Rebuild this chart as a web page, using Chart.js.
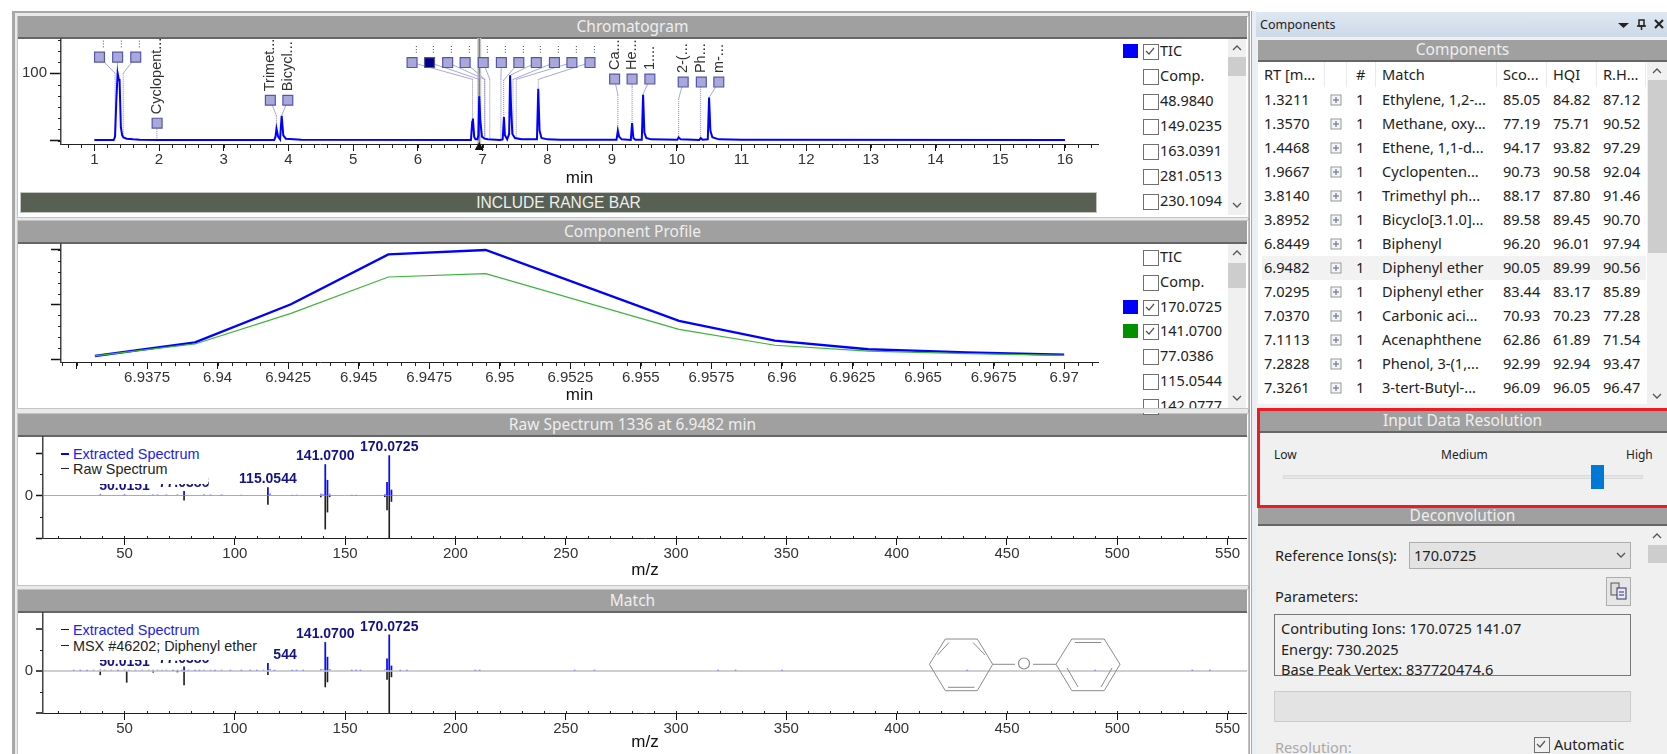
<!DOCTYPE html>
<html>
<head>
<meta charset="utf-8">
<title>Components</title>
<script src="https://cdn.jsdelivr.net/npm/chart.js@4"></script>
<style>
  html, body { margin: 0; padding: 0; background: #fff; overflow: hidden; }
  body { width: 1667px; height: 754px; position: relative; font-family: "Noto Sans", sans-serif; color: #222; }
  .abs { position: absolute; }
  .panel { position: absolute; left: 17px; width: 1230px; background: #fff; border: 1px solid #c4c4c4; box-sizing: content-box; }
  .bar { position: absolute; background: #a0a0a0; color: #eee; text-align: center; font-size: 15.5px; border-bottom: 2px solid #666; box-sizing: border-box; white-space: nowrap; overflow: hidden; }
  canvas { position: absolute; }
  .row { position: absolute; font-size: 14.5px; line-height: 20px; white-space: nowrap; }
  .chk { position: absolute; width: 14px; height: 14px; border: 1px solid #707070; background: #fff; box-sizing: content-box; }
  .spec-legend { position: absolute; background: #fff; font-family: "Liberation Sans", Arial, sans-serif; font-size: 14.4px; }
  .spec-legend div { position: absolute; white-space: nowrap; line-height: 16px; }
  .cell { position: absolute; font-size: 14.6px; line-height: 20px; white-space: nowrap; }
</style>
</head>
<body>
<div id="ui"></div>
<canvas id="chromChart" width="1082" height="154" style="left:18px;top:38px"></canvas>
<canvas id="profileChart" width="1082" height="166" style="left:18px;top:243px"></canvas>
<canvas id="rawChart" width="1229" height="148" style="left:18px;top:436px"></canvas>
<canvas id="matchChart" width="1229" height="142" style="left:18px;top:612px"></canvas>
<div id="overlay"></div>

<script>
// Chromatogram (TIC)
const ticTimes = [1, 1.30, 1.32, 1.34, 1.36, 1.38, 1.39, 1.41, 1.43, 1.45, 1.50, 1.6, 1.7, 2, 3.78, 3.80, 3.815, 3.84, 3.87, 3.895, 3.92, 3.96, 4.2, 6.82, 6.84, 6.85, 6.87, 6.89, 6.92, 6.935, 6.948, 6.965, 6.99, 7.03, 7.08, 7.27, 7.31, 7.33, 7.345, 7.38, 7.41, 7.425, 7.44, 7.46, 7.50, 7.6, 7.84, 7.86, 7.88, 7.91, 8.0, 8.2, 9.07, 9.09, 9.11, 9.15, 9.29, 9.31, 9.33, 9.36, 9.46, 9.48, 9.50, 9.53, 9.6, 10.01, 10.03, 10.06, 10.35, 10.37, 10.40, 10.48, 10.50, 10.52, 10.55, 10.65, 11, 16];
const ticValues = [1, 1, 6, 60, 100, 90, 90, 20, 8, 5, 3, 2, 1.5, 1.2, 1, 6, 18, 6, 2, 37, 8, 3, 1.5, 1, 28, 33, 6, 2, 2, 8, 66, 30, 6, 3, 2, 1, 2, 35, 8, 2, 10, 97, 50, 10, 4, 2, 2, 77, 15, 4, 2, 1.5, 1.5, 15, 6, 2, 1, 26, 4, 1.5, 1.5, 68, 12, 4, 2, 1.5, 5, 2, 1, 4, 1.5, 2, 64, 15, 5, 2, 1.5, 1];
const chromTicks = [1, 2, 3, 4, 5, 6, 7, 8, 9, 10, 11, 12, 13, 14, 15, 16];
const cursorRt = 6.9482;

// Peak annotations: flag position, peak it belongs to, where the leader bends
const flagRt = [1.08, 1.36, 1.64, 1.97, 3.72, 3.99, 5.91, 6.18, 6.46, 6.73, 7.01, 7.29, 7.56, 7.83, 8.11, 8.38, 8.66, 9.04, 9.31, 9.585, 10.10, 10.38, 10.65];
const flagLevel = [124, 124, 124, 26, 60, 60, 116, 116, 116, 116, 116, 116, 116, 116, 116, 116, 116, 91.5, 91.5, 91.5, 87, 87, 87];
const flagPeakRt = [1.3211, 1.357, 1.4468, 1.9667, 3.814, 3.8952, 6.8449, 6.9482, 7.0295, 7.037, 7.1113, 7.2828, 7.3261, 7.425, 7.47, 7.52, 7.86, 9.09, 9.31, 9.48, 10.03, 10.37, 10.50];
const flagPeakTop = [6, 100, 5, 1.2, 18, 37, 33, 66, 3, 3, 2, 2, 35, 97, 8, 3, 77, 15, 26, 68, 5, 4, 64];
const flagBend = [100, 100, 100, 20, 37, 37, 91, 91, 91, 91, 91, 91, 90, 97, 91, 91, 91, 68, 80, 69, 62, 80, 64];
const flagText = ['...', '...', '...', 'Cyclopent...', 'Trimet...', 'Bicycl...', '...', '...', '...', '...', '...', '...', '...', '...', '...', '...', '...', 'Ca...', 'He...', '1....', '2-(...', 'Ph...', 'm-...'];
const selectedFlag = 7;

// Component profile
const profileTimes = [6.93565, 6.9392, 6.9426, 6.94605, 6.9495, 6.95635, 6.95975, 6.96305, 6.96655, 6.97];
const profile170 = [2.8, 15.3, 50.2, 96, 100, 34.9, 16.8, 8.9, 6.1, 3.9];
const profile141 = [2.8, 13.8, 41.9, 75.2, 78.3, 27.2, 12.6, 7.3, 4.9, 3.4];
const profileTicks = [6.935, 6.9375, 6.94, 6.9425, 6.945, 6.9475, 6.95, 6.9525, 6.955, 6.9575, 6.96, 6.9625, 6.965, 6.9675, 6.97];
const profileTickLabels = ['', '6.9375', '6.94', '6.9425', '6.945', '6.9475', '6.95', '6.9525', '6.955', '6.9575', '6.96', '6.9625', '6.965', '6.9675', '6.97'];

// Spectra
const spectrumTicks = [50, 100, 150, 200, 250, 300, 350, 400, 450, 500, 550];
const rawExtractedMz = [39, 50, 63, 65, 69, 74, 77, 86, 89, 94, 103, 115, 116, 126, 128, 139, 140, 141, 142, 143, 153, 155, 168, 169, 170, 171];
const rawExtractedInt = [3, 3, 2, 2, 2, 2, 10, 2, 2, 2, 1, 19, 4, 1, 1, 4, 3, 73, 36, 4, 1, 1, 3, 31, 94, 13];
const rawSpectrumMz = [77, 115, 139, 141, 142, 143, 168, 169, 170, 171];
const rawSpectrumInt = [-11, -21, -3, -79, -39, -3, -3, -34, -100, -14];
const matchExtractedMz = [27, 30, 33, 36, 39, 41, 44, 47, 50, 52, 55, 58, 61, 63, 65, 67, 69, 72, 74, 76, 77, 79, 82, 84, 86, 89, 91, 94, 98, 103, 107, 110, 113, 115, 116, 118, 126, 128, 131, 139, 140, 141, 142, 143, 153, 155, 157, 168, 169, 170, 171, 175, 178, 209, 211, 254, 263, 319, 327, 348, 432, 490, 534, 542];
const matchExtractedInt = [1, 1, 1, 2, 3, 2, 2, 1, 3, 2, 2, 2, 2, 2, 2, 2, 2, 1, 2, 1, 10, 2, 1, 1, 2, 2, 1, 2, 1, 1, 1, 1, 2, 18, 4, 1, 1, 1, 1, 4, 3, 68, 33, 4, 1, 1, 1, 3, 29, 86, 12, 1, 1, 1, 1, 1, 1, 1, 1, 1, 1, 1, 1, 1];
const matchLibraryMz = [39, 51, 63, 74, 77, 115, 141, 142, 169, 170, 171];
const matchLibraryInt = [-9, -27, -3, -2, -33, -9, -38, -26, -20, -100, -14];
const peakLabelMz = [50, 77, 115, 141, 170];
const peakLabelText = ['50.0151', '77.0386', '115.0544', '141.0700', '170.0725'];

// Side lists and table
const chromLegend = ['TIC', 'Comp.', '48.9840', '149.0235', '163.0391', '281.0513', '230.1094'];
const profileLegend = ['TIC', 'Comp.', '170.0725', '141.0700', '77.0386', '115.0544', '142.0777'];
const compRt = ['1.3211', '1.3570', '1.4468', '1.9667', '3.8140', '3.8952', '6.8449', '6.9482', '7.0295', '7.0370', '7.1113', '7.2828', '7.3261'];
const compMatch = ['Ethylene, 1,2-...', 'Methane, oxy...', 'Ethene, 1,1-d...', 'Cyclopenten...', 'Trimethyl ph...', 'Bicyclo[3.1.0]...', 'Biphenyl', 'Diphenyl ether', 'Diphenyl ether', 'Carbonic aci...', 'Acenaphthene', 'Phenol, 3-(1,...', '3-tert-Butyl-...'];
const compScore = ['85.05', '77.19', '94.17', '90.73', '88.17', '89.58', '96.20', '90.05', '83.44', '70.93', '62.86', '92.99', '96.09'];
const compHqi = ['84.82', '75.71', '93.82', '90.58', '87.80', '89.45', '96.01', '89.99', '83.17', '70.23', '61.89', '92.94', '96.05'];
const compRh = ['87.12', '90.52', '97.29', '92.04', '91.46', '90.70', '97.94', '90.56', '85.89', '77.28', '71.54', '93.47', '96.47'];

const chartFont = "'Liberation Sans', Arial, sans-serif";

// ---- window chrome, plain html ----
let h = '';
function box(x, y, w, hh, css, inner) {
  h += `<div class="abs" style="left:${x}px;top:${y}px;width:${w}px;height:${hh}px;${css || ''}">${inner || ''}</div>`;
}
function bar(x, y, w, hh, text) {
  h += `<div class="bar" style="left:${x}px;top:${y}px;width:${w}px;height:${hh}px;line-height:${hh - 3}px">${text}</div>`;
}
function chevron(x, y, up) {
  const p = up ? '1,6 5,2 9,6' : '1,2 5,6 9,2';
  h += `<svg class="abs" style="left:${x}px;top:${y}px" width="10" height="8"><polyline points="${p}" fill="none" stroke="#555" stroke-width="1.3"/></svg>`;
}
function tick(x, y) {
  h += `<svg class="abs" style="left:${x}px;top:${y}px" width="14" height="14"><polyline points="3,7 6,10 11,4" fill="none" stroke="#555" stroke-width="1.2"/></svg>`;
}

box(12, 11, 1238, 743, 'background:#e9e9e9;border:1px solid #a8a8a8;border-width:2px 2px 0 3px;box-sizing:border-box');
h += '<div class="panel" style="top:16px;height:200px"></div>';
h += '<div class="panel" style="top:220px;height:187px"></div>';
h += '<div class="panel" style="top:413px;height:171px"></div>';
h += '<div class="panel" style="top:589px;height:165px"></div>';

bar(18, 16, 1229, 23, 'Chromatogram');
bar(18, 221, 1229, 23, 'Component Profile');
bar(18, 414, 1229, 23, 'Raw Spectrum 1336 at 6.9482 min');
bar(18, 590, 1229, 23, 'Match');

box(20, 192, 1077, 21, 'background:#586054;border:1px solid #c4c4c4;box-sizing:border-box;color:#eee;text-align:center;font:15.6px/19px ' + chartFont, 'INCLUDE RANGE BAR');

function legendList(names, top0, step, colours) {
  names.forEach((n, i) => {
    const cy = top0 + i * step;
    if (colours[i]) {
      box(1123, cy - 7, 15, 14, 'background:' + colours[i]);
      h += `<div class="chk" style="left:1143px;top:${cy - 7}px"></div>`;
      tick(1143, cy - 7);
    } else {
      h += `<div class="chk" style="left:1143px;top:${cy - 7}px"></div>`;
    }
    h += `<div class="row" style="left:1160px;top:${cy - 11}px">${n}</div>`;
  });
}
legendList(chromLegend, 51, 25, { 0: '#0000ff' });
legendList(profileLegend, 257, 24.8, { 2: '#0000ff', 3: '#009000' });
// the list is cut off by the panel edge
box(1100, 408, 146, 1, 'background:#c4c4c4');
box(1100, 409, 148, 4, 'background:#e9e9e9');

box(1228, 39, 18, 176, 'background:#f0f0f0');
box(1228, 57, 18, 19, 'background:#cdcdcd');
chevron(1232, 44, true); chevron(1232, 201, false);
box(1228, 244, 18, 164, 'background:#f0f0f0');
box(1228, 263, 18, 25, 'background:#cdcdcd');
chevron(1232, 249, true); chevron(1232, 394, false);

// right hand dock
box(1251, 11, 6, 743, 'background:#e9eef5;border-left:1px solid #a8a8a8;box-sizing:border-box');
box(1256, 12, 411, 25, 'background:linear-gradient(#dfe8f2,#cbd8e7);font-size:12.5px;line-height:25px;padding-left:4px;box-sizing:border-box', 'Components');
h += '<svg class="abs" style="left:1615px;top:17px" width="50" height="16"><polygon points="3,6 14,6 8.5,11" fill="#222"/><rect x="24" y="3" width="5" height="6" fill="none" stroke="#222" stroke-width="1.5"/><line x1="26.5" y1="9" x2="26.5" y2="13" stroke="#222" stroke-width="1.5"/><line x1="22" y1="9" x2="31" y2="9" stroke="#222" stroke-width="1.5"/><path d="M40 3 L48 11 M48 3 L40 11" stroke="#222" stroke-width="2"/></svg>';
box(1256, 37, 411, 717, 'background:#f0f0f0');
bar(1258, 40, 409, 22, 'Components');
box(1258, 62, 396, 342, 'background:#fff;overflow:hidden');
box(1262, 256, 384, 24, 'background:#f2f2f2');

const colX = [1264, 1356, 1382, 1503, 1553, 1603];
['RT [m...', '#', 'Match', 'Sco...', 'HQI', 'R.H...'].forEach((t, i) => {
  h += `<div class="cell" style="left:${colX[i]}px;top:64px">${t}</div>`;
});
[1324, 1346, 1375, 1496, 1546, 1596, 1645].forEach(x => box(x, 62, 1, 25, 'background:#eaeaea'));
compRt.forEach((rt, i) => {
  const y = 89 + i * 24;
  h += `<div class="cell" style="left:${colX[0]}px;top:${y}px">${rt}</div>`;
  h += `<svg class="abs" style="left:1330px;top:${y + 5}px" width="12" height="12"><rect x="1" y="1" width="10" height="10" fill="#f4f4f4" stroke="#999"/><path d="M3 6 H9 M6 3 V9" stroke="#54668c"/></svg>`;
  h += `<div class="cell" style="left:${colX[1]}px;top:${y}px">1</div>`;
  h += `<div class="cell" style="left:${colX[2]}px;top:${y}px">${compMatch[i]}</div>`;
  h += `<div class="cell" style="left:${colX[3]}px;top:${y}px">${compScore[i]}</div>`;
  h += `<div class="cell" style="left:${colX[4]}px;top:${y}px">${compHqi[i]}</div>`;
  h += `<div class="cell" style="left:${colX[5]}px;top:${y}px">${compRh[i]}</div>`;
});
box(1647, 62, 20, 342, 'background:#f0f0f0');
box(1648, 80, 19, 173, 'background:#cdcdcd');
chevron(1652, 67, true); chevron(1652, 392, false);

// Input Data Resolution
box(1256, 404, 411, 6, 'background:#f0f0f0');
bar(1258, 410, 409, 23, 'Input Data Resolution');
h += '<div class="abs" style="left:1274px;top:447px;font-size:12px;line-height:16px">Low</div>';
h += '<div class="abs" style="left:1441px;top:447px;width:44px;font-size:12px;line-height:16px;text-align:center">Medium</div>';
h += '<div class="abs" style="left:1626px;top:447px;font-size:12px;line-height:16px">High</div>';
box(1283, 475, 358, 2, 'background:#e4e7e4;border:1px solid #d8dcd8;box-sizing:content-box');
box(1591, 465, 13, 24, 'background:#0078d7');
bar(1258, 508, 409, 18, 'Deconvolution');
box(1257, 408, 410, 100, 'border:3px solid #ed1c24;border-right:none;box-sizing:border-box');

// Deconvolution
h += '<div class="cell" style="left:1275px;top:545px">Reference Ions(s):</div>';
box(1409, 542, 222, 27, 'background:#e3e3e3;border:1px solid #adadad;box-sizing:border-box');
h += '<div class="cell" style="left:1414px;top:545px">170.0725</div>';
chevron(1616, 551, false);
h += '<div class="cell" style="left:1275px;top:586px">Parameters:</div>';
box(1606, 577, 25, 29, 'background:#e6e6e6;border:1px solid #adadad;box-sizing:border-box');
h += '<svg class="abs" style="left:1610px;top:582px" width="18" height="18"><rect x="1" y="1" width="8" height="12" fill="#ddd" stroke="#555"/><rect x="7" y="6" width="9" height="11" fill="#e8e8f8" stroke="#336"/><path d="M9 10 H14 M9 13 H14" stroke="#336"/></svg>';
box(1274, 614, 357, 62, 'background:#f0f0f0;border:1px solid #777;box-sizing:border-box;overflow:hidden;font-size:14.6px;line-height:20.6px;padding:3px 0 0 6px;white-space:nowrap', 'Contributing Ions: 170.0725 141.07<br>Energy: 730.2025<br>Base Peak Vertex: 837720474.6');
box(1274, 691, 357, 31, 'background:#e3e3e3;border:1px solid #ccc;box-sizing:border-box');
h += '<div class="cell" style="left:1275px;top:737px;color:#a8a8a8">Resolution:</div>';
h += '<div class="chk" style="left:1534px;top:737px;background:#f0f0f0"></div>';
tick(1534, 737);
h += '<div class="cell" style="left:1554px;top:734px">Automatic</div>';
box(1648, 526, 19, 228, 'background:#f0f0f0');
box(1648, 545, 19, 18, 'background:#cdcdcd');
chevron(1652, 532, true);

document.getElementById('ui').innerHTML = h;

// ---- legends over the spectra and the structure, they hide what is behind them ----
document.getElementById('overlay').innerHTML = `
<div class="spec-legend" style="left:47px;top:441px;width:161px;height:43px">
  <div style="left:14px;top:5px;width:8px;height:2px;background:#0000ff;margin-top:7px"></div>
  <div style="left:26px;top:5px;color:#2020f0">Extracted Spectrum</div>
  <div style="left:14px;top:20px;width:8px;height:1px;background:#222;margin-top:7px"></div>
  <div style="left:26px;top:20px;color:#222">Raw Spectrum</div>
</div>
<div class="spec-legend" style="left:47px;top:616px;width:226px;height:44px">
  <div style="left:14px;top:6px;width:8px;height:1px;background:#0000ff;margin-top:7px"></div>
  <div style="left:26px;top:6px;color:#2020f0">Extracted Spectrum</div>
  <div style="left:14px;top:22px;width:8px;height:1px;background:#222;margin-top:7px"></div>
  <div style="left:26px;top:22px;color:#222">MSX #46202; Diphenyl ether</div>
</div>
<svg class="abs" style="left:920px;top:630px" width="210" height="70" fill="none" stroke="#8a8a8a" stroke-width="1">
  <polygon points="9.4,34.3 25.3,9 57.3,9 72.7,34.3 57.3,60.7 25.3,60.7"/>
  <path d="M17.5,25 L29,12.5 M53,12.5 L65,25 M28,57.3 L54.5,57.3"/>
  <path d="M72.7,34.3 H95 M113,34.3 H136"/>
  <circle cx="104" cy="33.5" r="5.5" stroke-width="1.2"/>
  <polygon points="136,34.3 151.8,9 184.2,9 200,34.3 184.2,60.7 151.8,60.7"/>
  <path d="M155,12.5 H181 M147,38 L158,57 M181,57 L192,38"/>
</svg>`;

// ---- chart helpers ----
// minor tick marks, chart.js only draws one length per axis
const minorTicks = {
  id: 'minorTicks',
  afterDraw(chart, args, opts) {
    const {ctx, chartArea, scales} = chart;
    ctx.save();
    ctx.strokeStyle = '#222';
    ctx.lineWidth = 1;
    ctx.beginPath();
    (opts.x || []).forEach(v => {
      const px = Math.round(scales.x.getPixelForValue(v)) + 0.5;
      ctx.moveTo(px, chartArea.bottom - (opts.xUp || 0));
      ctx.lineTo(px, chartArea.bottom + (opts.xLen || 4));
    });
    (opts.y || []).forEach(v => {
      const py = Math.round(scales.y.getPixelForValue(v)) + 0.5;
      ctx.moveTo(chartArea.left - (opts.yLen || 3), py);
      ctx.lineTo(chartArea.left, py);
    });
    ctx.stroke();
    ctx.restore();
  }
};

function between(ticks, n, from, to) {
  const out = [];
  const step = (ticks[1] - ticks[0]) / n;
  for (let v = from; v <= to + step / 10; v += step) out.push(v);
  return out;
}

function fixedAxes(yWidth, xHeight) {
  return {
    x: s => { s.height = xHeight; s.paddingLeft = 0; s.paddingRight = 0; },
    y: s => { s.width = yWidth; s.paddingTop = 0; s.paddingBottom = 0; }
  };
}

function axisOptions(o) {
  const fit = fixedAxes(o.yWidth, o.xHeight);
  return {
    x: {
      type: 'linear', min: o.xMin, max: o.xMax, offset: false,
      afterBuildTicks: s => { s.ticks = o.xTicks.map(v => ({value: v})); },
      afterFit: fit.x,
      border: {color: '#222', width: 1},
      grid: {offset: false, drawOnChartArea: false, tickLength: o.xTickLen, tickColor: '#111', tickWidth: 1},
      ticks: {
        autoSkip: false, maxRotation: 0, minRotation: 0, padding: 0, color: '#333',
        font: {family: chartFont, size: 15},
        callback: o.xLabel || (v => String(v))
      },
      title: {display: true, text: o.xTitle, color: '#111', font: {family: chartFont, size: 17}, padding: {top: 0, bottom: o.titlePad}}
    },
    y: {
      type: 'linear', min: o.yMin, max: o.yMax,
      afterBuildTicks: s => { s.ticks = o.yTicks.map(v => ({value: v})); },
      afterFit: fit.y,
      border: {color: '#444', width: 1.5},
      grid: {
        drawOnChartArea: !!o.zeroLine, tickLength: o.yTickLen, tickColor: '#111', tickWidth: 1.5,
        color: c => (c.tick && c.tick.value === 0 && o.zeroLine) ? o.zeroLine : 'rgba(0,0,0,0)',
        lineWidth: o.zeroWidth || 1
      },
      ticks: {
        autoSkip: false, padding: 3, color: '#333',
        font: {family: chartFont, size: 15},
        callback: o.yLabel
      }
    }
  };
}

// ---- chromatogram ----
const flagDecor = {
  id: 'flagDecor',
  beforeDatasetsDraw(chart) {
    const {ctx, scales: {x, y}, chartArea} = chart;
    ctx.save();
    // retention time cursor
    const cx = x.getPixelForValue(cursorRt);
    ctx.fillStyle = '#c8c8c8';
    ctx.fillRect(cx - 2, chartArea.top, 4, chartArea.height);
    ctx.fillStyle = '#666';
    ctx.fillRect(cx - 0.5, chartArea.top, 1, chartArea.height);
    // leaders from flags to peaks
    flagRt.forEach((rt, i) => {
      const mx = x.getPixelForValue(rt), my = y.getPixelForValue(flagLevel[i]);
      const px = x.getPixelForValue(flagPeakRt[i]);
      const by = y.getPixelForValue(flagBend[i]), ty = y.getPixelForValue(flagPeakTop[i]);
      ctx.strokeStyle = '#a8a8dc';
      ctx.lineWidth = 1;
      ctx.setLineDash([]);
      ctx.beginPath();
      ctx.moveTo(mx, my);
      ctx.lineTo(px, by);
      ctx.stroke();
      ctx.strokeStyle = '#8080cc';
      ctx.setLineDash([1, 1]);
      ctx.beginPath();
      ctx.moveTo(px, by);
      ctx.lineTo(px, ty);
      ctx.stroke();
    });
    ctx.restore();
  },
  afterDatasetsDraw(chart) {
    const {ctx, scales: {x, y}, chartArea} = chart;
    ctx.save();
    // rotated flag names
    ctx.fillStyle = '#333';
    ctx.textBaseline = 'middle';
    ctx.textAlign = 'left';
    flagRt.forEach((rt, i) => {
      const dotsOnly = flagText[i] === '...';
      ctx.font = (dotsOnly ? 10 : 14.5) + 'px ' + chartFont;
      ctx.save();
      ctx.translate(x.getPixelForValue(rt) + (dotsOnly ? 2 : 0), y.getPixelForValue(flagLevel[i]) - 9);
      ctx.rotate(-Math.PI / 2);
      ctx.fillText(flagText[i], 0, 0);
      ctx.restore();
    });
    // cursor triangle on the axis
    const cx = x.getPixelForValue(cursorRt);
    ctx.fillStyle = '#111';
    ctx.beginPath();
    ctx.moveTo(cx, chartArea.bottom - 2);
    ctx.lineTo(cx - 4.5, chartArea.bottom + 6);
    ctx.lineTo(cx + 4.5, chartArea.bottom + 6);
    ctx.closePath();
    ctx.fill();
    ctx.restore();
  }
};

new Chart(document.getElementById('chromChart').getContext('2d'), {
  type: 'line',
  data: {
    datasets: [
      {
        label: 'TIC',
        data: ticTimes.map((t, i) => ({x: t, y: ticValues[i]})),
        borderColor: '#0000ff', borderWidth: 2, pointRadius: 0, tension: 0, order: 2
      },
      {
        label: 'flags',
        data: flagRt.map((t, i) => ({x: t, y: flagLevel[i]})),
        showLine: false, pointStyle: 'rect', pointRadius: 7, order: 1,
        pointBackgroundColor: flagRt.map((t, i) => i === selectedFlag ? '#000080' : '#a9a9d9'),
        pointBorderColor: '#5555b0', pointBorderWidth: 1.2
      }
    ]
  },
  options: {
    responsive: false, animation: false,
    layout: {autoPadding: false, padding: {left: 0, right: 2, top: 0, bottom: 0}},
    plugins: {
      legend: {display: false}, tooltip: {enabled: false},
      minorTicks: {x: between([0, 1], 5, 0.6, 16.4), y: between([0, 100], 6, 0, 150), xLen: 4, yLen: 3}
    },
    scales: axisOptions({
      yWidth: 43, xHeight: 48, xMin: 0.485, xMax: 16.51, xTicks: chromTicks, xTickLen: 7, xTitle: 'min', titlePad: 3,
      yMin: -4.9, yMax: 152.4, yTicks: [0, 100], yTickLen: 11, yLabel: v => (v === 100 ? '100' : '')
    })
  },
  plugins: [flagDecor, minorTicks]
});

// ---- component profile ----
new Chart(document.getElementById('profileChart').getContext('2d'), {
  type: 'line',
  data: {
    datasets: [
      {label: '141.0700', data: profileTimes.map((t, i) => ({x: t, y: profile141[i]})), borderColor: '#3cb43c', borderWidth: 1.2, pointRadius: 0, tension: 0},
      {label: '170.0725', data: profileTimes.map((t, i) => ({x: t, y: profile170[i]})), borderColor: '#0000ff', borderWidth: 2.4, pointRadius: 0, tension: 0}
    ]
  },
  options: {
    responsive: false, animation: false,
    layout: {autoPadding: false, padding: {left: 0, right: 2, top: 0, bottom: 0}},
    plugins: {
      legend: {display: false}, tooltip: {enabled: false},
      minorTicks: {x: between([0, 0.0025], 5, 6.9345, 6.971), y: between([0, 50], 5, 0, 100), xLen: 4, yLen: 3}
    },
    scales: axisOptions({
      yWidth: 43, xHeight: 47, xMin: 6.93445, xMax: 6.9712, xTicks: profileTicks, xTickLen: 7, xTitle: 'min', titlePad: 3,
      xLabel: (v, i) => profileTickLabels[i],
      yMin: -2.75, yMax: 106.4, yTicks: [0, 50, 100], yTickLen: 10, yLabel: () => ''
    })
  },
  plugins: [minorTicks]
});

// ---- spectra ----
const peakLabels = {
  id: 'peakLabels',
  afterDatasetsDraw(chart) {
    const {ctx, scales: {x, y}} = chart;
    const blue = chart.data.datasets[0].data;
    ctx.save();
    ctx.fillStyle = '#12128c';
    ctx.font = 'bold 14px ' + chartFont;
    ctx.textAlign = 'center';
    ctx.textBaseline = 'middle';
    peakLabelMz.forEach((mz, i) => {
      const pt = blue.find(p => p.x === mz);
      ctx.fillText(peakLabelText[i], x.getPixelForValue(mz), y.getPixelForValue(pt.y) - 8);
    });
    ctx.restore();
  }
};

function spectrum(id, extMz, extInt, refMz, refInt, zeroLine, zeroWidth, yMax, xHeight, titlePad) {
  new Chart(document.getElementById(id).getContext('2d'), {
    type: 'bar',
    data: {
      datasets: [
        {
          label: 'Extracted Spectrum',
          data: extMz.map((m, i) => ({x: m, y: extInt[i]})),
          // the tiny noise peaks come out faint in the reference
          backgroundColor: c => (c.raw && c.raw.y < 5 ? '#8c8cf5' : '#0a0aff'),
          barThickness: 1.1, grouped: false
        },
        {
          label: 'Reference',
          data: refMz.map((m, i) => ({x: m, y: refInt[i]})),
          backgroundColor: '#222',
          barThickness: 1, grouped: false
        }
      ]
    },
    options: {
      responsive: false, animation: false,
      layout: {autoPadding: false, padding: 0},
      plugins: {
        legend: {display: false}, tooltip: {enabled: false},
        minorTicks: {x: between([0, 10], 1, 20, 550), xLen: 1, xUp: 2, y: [-50, 50], yLen: 3}
      },
      scales: axisOptions({
        yWidth: 25, xHeight: xHeight, xMin: 13.06, xMax: 558.8, xTicks: spectrumTicks, xTickLen: 7, xTitle: 'm/z', titlePad: titlePad,
        yMin: -100, yMax: yMax, yTicks: [-100, 0, 100], yTickLen: 7, yLabel: v => (v === 0 ? '0' : ''),
        zeroLine: zeroLine, zeroWidth: zeroWidth
      })
    },
    plugins: [peakLabels, minorTicks]
  });
}
spectrum('rawChart', rawExtractedMz, rawExtractedInt, rawSpectrumMz, rawSpectrumInt, '#ababab', 1, 140.2, 46, 3);
spectrum('matchChart', matchExtractedMz, matchExtractedInt, matchLibraryMz, matchLibraryInt, '#cfcfcf', 2, 140.5, 41, 1);
</script>
</body>
</html>
